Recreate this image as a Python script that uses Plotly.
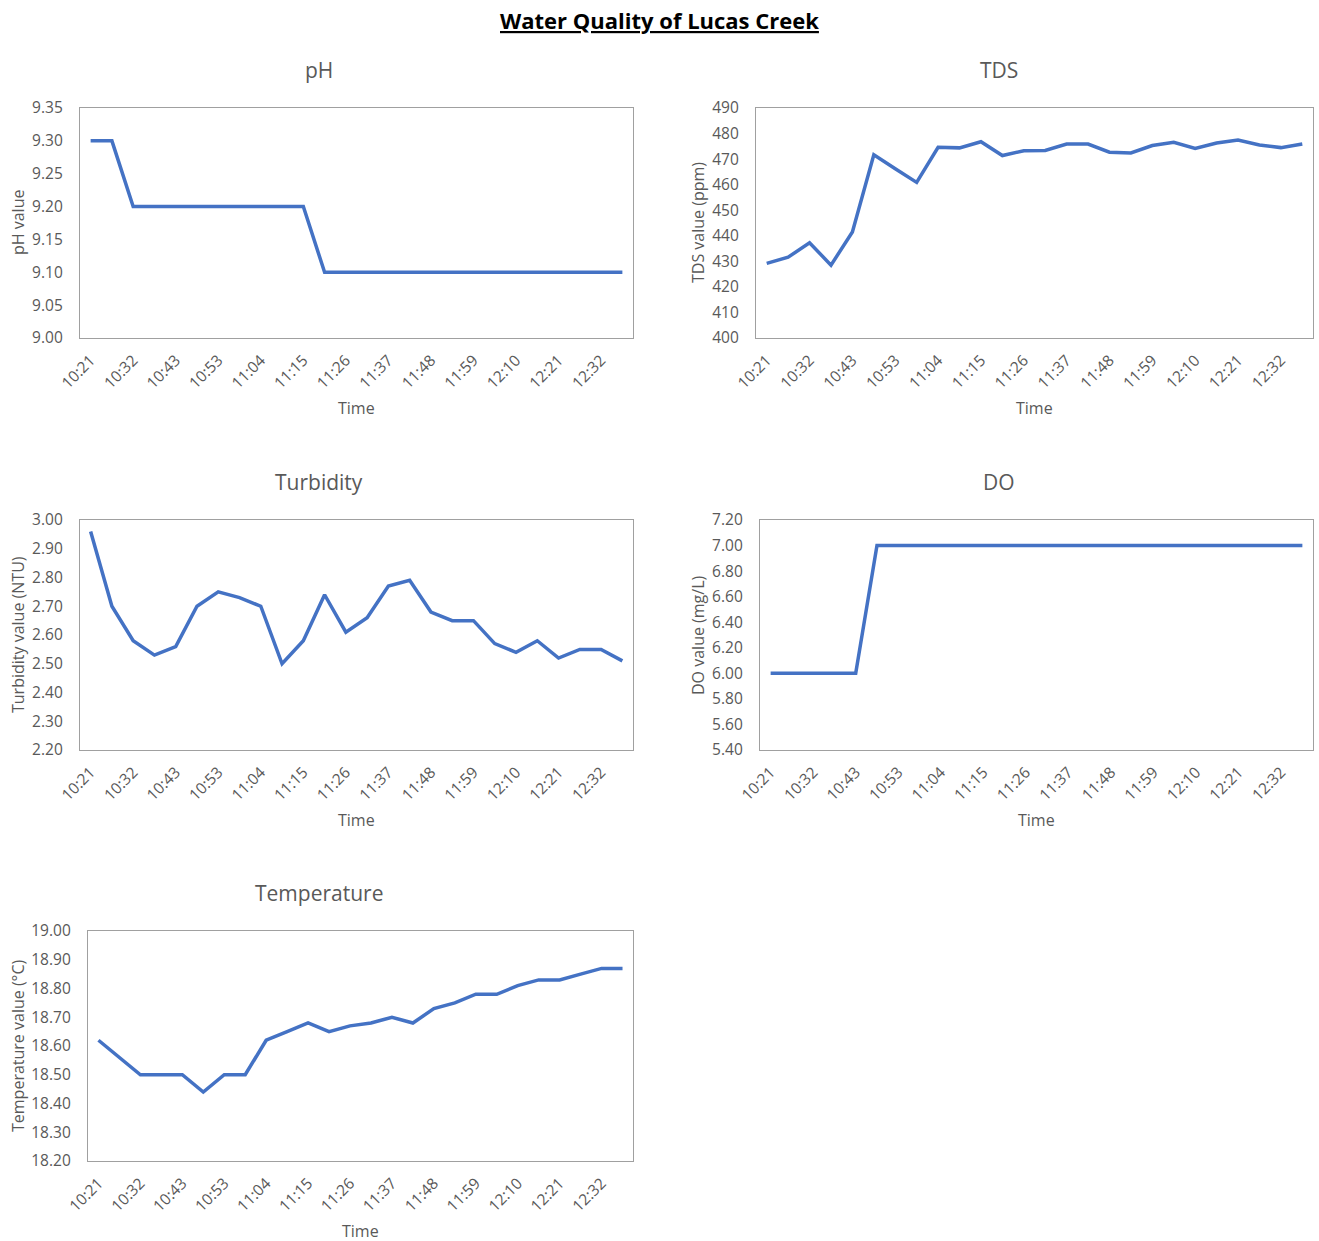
import plotly.graph_objects as go

# Sampling times (category axis) and the labels shown on it
times = ["10:21", "10:26", "10:32", "10:37", "10:43", "10:48", "10:53", "10:59",
         "11:04", "11:09", "11:15", "11:20", "11:26", "11:31", "11:37", "11:42",
         "11:48", "11:53", "11:59", "12:04", "12:10", "12:15", "12:21", "12:26",
         "12:32", "12:37"]
tick_labels = ["10:21", "10:32", "10:43", "10:53", "11:04", "11:15", "11:26",
               "11:37", "11:48", "11:59", "12:10", "12:21", "12:32"]

# Measurements
ph = [9.30, 9.30, 9.20, 9.20, 9.20, 9.20, 9.20, 9.20, 9.20, 9.20, 9.20,
      9.10, 9.10, 9.10, 9.10, 9.10, 9.10, 9.10, 9.10, 9.10, 9.10, 9.10,
      9.10, 9.10, 9.10, 9.10]
tds = [429.2, 431.6, 437.3, 428.5, 441.5, 471.7, 466.2, 460.9, 474.6, 474.4,
       476.8, 471.4, 473.3, 473.4, 475.9, 475.9, 472.7, 472.4, 475.3, 476.6,
       474.2, 476.3, 477.5, 475.5, 474.5, 475.9]
turbidity = [2.96, 2.70, 2.58, 2.53, 2.56, 2.70, 2.75, 2.73, 2.70, 2.50,
             2.58, 2.74, 2.61, 2.66, 2.77, 2.79, 2.68, 2.65, 2.65, 2.57,
             2.54, 2.58, 2.52, 2.55, 2.55, 2.51]
do = [6.00, 6.00, 6.00, 6.00, 6.00, 7.00, 7.00, 7.00, 7.00, 7.00, 7.00,
      7.00, 7.00, 7.00, 7.00, 7.00, 7.00, 7.00, 7.00, 7.00, 7.00, 7.00,
      7.00, 7.00, 7.00, 7.00]
temperature = [18.62, 18.56, 18.50, 18.50, 18.50, 18.44, 18.50, 18.50, 18.62,
               18.65, 18.68, 18.65, 18.67, 18.68, 18.70, 18.68, 18.73, 18.75,
               18.78, 18.78, 18.81, 18.83, 18.83, 18.85, 18.87, 18.87]

W, H = 1319, 1241
FONT = "Open Sans"
GREY = "#595959"
LINE = "#4472C4"

# panel: title, y-axis title, data, y range, y step, tick format,
#        plot box in pixels (left, right, top, bottom), y-title x, title x
panels = [
    ("pH", "pH value", ph, [9.0, 9.35], 0.05, ".2f", (80, 633, 108, 338), 18, 319),
    ("TDS", "TDS value (ppm)", tds, [400, 490], 10, "d", (756, 1313, 108, 338), 698, 999),
    ("Turbidity", "Turbidity value (NTU)", turbidity, [2.2, 3.0], 0.1, ".2f", (80, 633, 520, 750), 18, 319),
    ("DO", "DO value (mg/L)", do, [5.4, 7.2], 0.2, ".2f", (760, 1313, 520, 750), 698, 999),
    ("Temperature", "Temperature value (°C)", temperature, [18.2, 19.0], 0.1, ".2f", (88, 633, 931, 1161), 18, 319),
]

fig = go.Figure()
annotations = []
layout_axes = {}

for i, (title, ytitle, vals, yrange, dtick, fmt, box, ytx, ttx) in enumerate(panels, start=1):
    left, right, top, bottom = box
    xa = "x" if i == 1 else f"x{i}"
    ya = "y" if i == 1 else f"y{i}"
    fig.add_trace(go.Scatter(
        x=times, y=vals, mode="lines", xaxis=xa, yaxis=ya,
        line=dict(color=LINE, width=3.5), showlegend=False,
    ))
    axis_common = dict(showline=True, mirror=True, linecolor="#A0A0A0", linewidth=1.3,
                       showgrid=False, zeroline=False, automargin=False,
                       tickfont=dict(family=FONT, size=15.5, color=GREY))
    layout_axes["xaxis" if i == 1 else f"xaxis{i}"] = dict(
        axis_common, type="category", domain=[left / W, right / W],
        anchor=ya, range=[-0.5, len(times) - 0.5],
        tickmode="array", tickvals=tick_labels, ticktext=tick_labels,
        tickangle=-45, ticks="", ticklabelstandoff=6,
    )
    layout_axes["yaxis" if i == 1 else f"yaxis{i}"] = dict(
        axis_common, domain=[1 - bottom / H, 1 - top / H], anchor=xa,
        range=yrange, dtick=dtick, tick0=yrange[0], tickformat=fmt,
        ticks="", ticklabelstandoff=13,
    )
    cx = (left + right) / 2
    # panel title
    annotations.append(dict(
        text=title, x=ttx / W, y=1 - (top - 38) / H, xref="paper", yref="paper",
        showarrow=False, font=dict(family=FONT, size=21, color=GREY),
        xanchor="center", yanchor="middle"))
    # x-axis title
    annotations.append(dict(
        text="Time", x=cx / W, y=1 - (bottom + 70) / H, xref="paper", yref="paper",
        showarrow=False, font=dict(family=FONT, size=16, color=GREY),
        xanchor="center", yanchor="middle"))
    # y-axis title
    annotations.append(dict(
        text=ytitle, x=ytx / W, y=1 - (top + bottom) / 2 / H, xref="paper", yref="paper",
        showarrow=False, textangle=-90, font=dict(family=FONT, size=16, color=GREY),
        xanchor="center", yanchor="middle"))

annotations.append(dict(
    text="<b><u>Water Quality of Lucas Creek</u></b>", x=659 / W, y=1 - 20 / H,
    xref="paper", yref="paper", showarrow=False,
    font=dict(family=FONT, size=22, color="#000000"),
    xanchor="center", yanchor="middle"))

fig.update_layout(
    width=W, height=H, margin=dict(l=0, r=0, t=0, b=0, autoexpand=False),
    paper_bgcolor="white", plot_bgcolor="white",
    annotations=annotations, **layout_axes,
)

fig.write_html("out.html")
